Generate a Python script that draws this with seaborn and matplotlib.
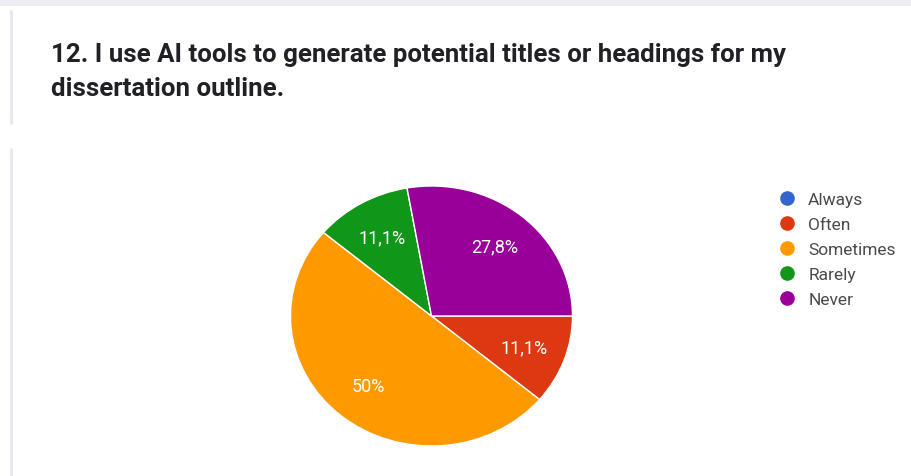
import matplotlib
matplotlib.use("Agg")
import matplotlib.pyplot as plt
from matplotlib.lines import Line2D
from matplotlib.patches import Rectangle
import seaborn as sns

# Survey question and answer counts
title_lines = [
    "12. I use AI tools to generate potential titles or headings for my",
    "dissertation outline.",
]
categories = ["Always", "Often", "Sometimes", "Rarely", "Never"]
counts = [0, 2, 9, 2, 5]
colors = ["#3366cc", "#dc3912", "#ff9900", "#109618", "#990099"]

sns.set_theme(style="white")
plt.rcParams["font.family"] = ["Roboto", "DejaVu Sans"]

W, H = 912, 477
fig = plt.figure(figsize=(W / 100, H / 100), dpi=100)
fig.patch.set_facecolor("white")


def px_box(left, top, right, bottom):
    return [left / W, 1 - bottom / H, (right - left) / W, (bottom - top) / H]


# Page background strip and card borders
fig.patches.append(Rectangle((0, 1 - 7 / H), 1, 7 / H, transform=fig.transFigure,
                             facecolor="#ededf3", edgecolor="none", zorder=0))
fig.lines.append(Line2D([11 / W, 11 / W], [1 - 12 / H, 1 - 124 / H],
                        transform=fig.transFigure, color="#e6e6ee", lw=2))
fig.lines.append(Line2D([11 / W, 11 / W], [1 - 150 / H, 0],
                        transform=fig.transFigure, color="#e6e6ee", lw=2))

# Question title
fig.text(51 / W, 1 - 62 / H, title_lines[0], fontsize=18.6, fontweight="bold",
         color="#202124", va="baseline", ha="left")
fig.text(51 / W, 1 - 96 / H, title_lines[1], fontsize=18.6, fontweight="bold",
         color="#202124", va="baseline", ha="left")

# Pie chart
ax = fig.add_axes(px_box(290.5, 187, 572.5, 447))
palette = sns.color_palette(colors)


def pct_label(p):
    if p < 0.05:
        return ""
    s = f"{p:.1f}".replace(".", ",")
    if s.endswith(",0"):
        s = s[:-2]
    return s + "%"


wedges, texts, autotexts = ax.pie(
    counts,
    colors=palette,
    startangle=0,
    counterclock=False,
    autopct=pct_label,
    pctdistance=0.7,
    wedgeprops=dict(edgecolor="white", linewidth=1),
    textprops=dict(color="white", fontsize=13),
)
ax.set_aspect("auto")
ax.set_xlim(-1, 1)
ax.set_ylim(-1, 1)
ax.axis("off")

# Legend with circular markers
handles = [
    Line2D([0], [0], marker="o", linestyle="none", markersize=9.5,
           markerfacecolor=c, markeredgecolor=c)
    for c in palette
]
fig.legend(
    handles, categories,
    loc="upper left",
    bbox_to_anchor=(779.5 / W, 1 - 193 / H),
    frameon=False,
    fontsize=12.5,
    handlelength=0.9,
    handletextpad=0.75,
    labelspacing=0.57,
    borderpad=0,
    borderaxespad=0,
    labelcolor="#4a4a4a",
)

fig.savefig("out.png", dpi=100, facecolor="white")
